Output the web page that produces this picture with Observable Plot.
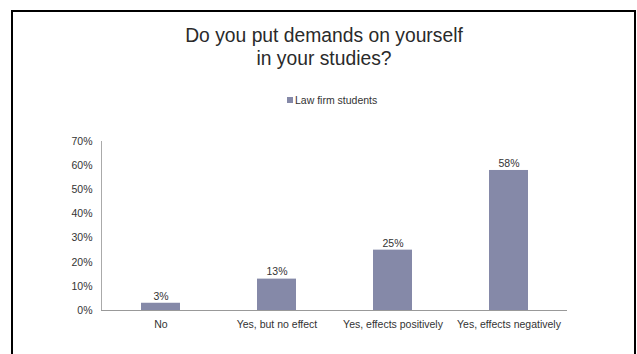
<!DOCTYPE html>
<html>
<head>
<meta charset="utf-8">
<script src="https://cdn.jsdelivr.net/npm/d3@7"></script>
<script src="https://cdn.jsdelivr.net/npm/@observablehq/plot@0.6"></script>
<style>
  html, body { margin: 0; padding: 0; background: #fff; }
  body { width: 637px; height: 354px; position: relative; overflow: hidden; font-family: "Liberation Sans", Arial, sans-serif; }
  #frame { position: absolute; left: 11px; top: 10px; width: 625px; height: 400px; border: 2.5px solid #000; box-sizing: border-box; }
  #title { position: absolute; left: 0; width: 648px; top: 24px; text-align: center; font-size: 19.3px; line-height: 23px; color: #2a2a2a; }
  #legend { position: absolute; left: 287px; top: 94px; font-size: 10.5px; color: #333; display: flex; align-items: center; }
  #legend span.sw { display: inline-block; width: 6px; height: 6px; background: #8589a8; margin-right: 2px; }
  #chart { position: absolute; left: 0; top: 120px; }
</style>
</head>
<body>
<div id="frame"></div>
<div id="title">Do you put demands on yourself<br>in your studies?</div>
<div id="legend"><span class="sw"></span>Law firm students</div>
<div id="chart"></div>
<script>
const categories = ["No", "Yes, but no effect", "Yes, effects positively", "Yes, effects negatively"];
const values = [3, 13, 25, 58];
const yTicks = [0, 10, 20, 30, 40, 50, 60, 70];
const seriesName = "Law firm students";

const data = categories.map((c, i) => ({category: c, value: values[i]}));

const plot = Plot.plot({
  width: 637,
  height: 234,
  marginTop: 21,
  marginBottom: 44,
  marginLeft: 101,
  marginRight: 70,
  style: {fontFamily: "Liberation Sans, Arial, sans-serif", fontSize: "10px", color: "#333", background: "transparent"},
  x: {domain: categories, paddingInner: 0.665, paddingOuter: 0.3325, label: null},
  y: {domain: [0, 70], label: null},
  marks: [
    Plot.barY(data, {x: "category", y: "value", fill: "#8589a8"}),
    Plot.axisY({ticks: yTicks, tickSize: 0, tickPadding: 9, tickFormat: d => d + "%", fill: "#333", fontSize: 10.5}),
    Plot.axisX({tickSize: 0, tickPadding: 10, fill: "#333", fontSize: 10.5, textAnchor: "middle"}),
    Plot.frame({anchor: "left", stroke: "#aaa", strokeWidth: 1}),
    Plot.ruleY([0], {stroke: "#999", strokeWidth: 1}),
    Plot.text(data, {x: "category", y: "value", text: d => d.value + "%", dy: -7, fill: "#333", fontSize: 10.5, letterSpacing: 0.8})
  ]
});

document.getElementById("chart").appendChild(plot);
</script>
</body>
</html>
